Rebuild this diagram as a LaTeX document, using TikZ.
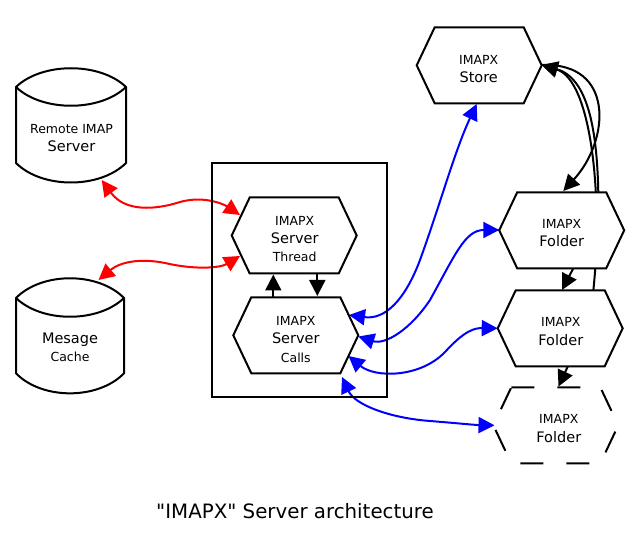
\documentclass[tikz,border=0pt]{standalone}
\usepackage{fontspec}
\setmainfont{DejaVu Sans}[Ligatures=TeXOff]
\usetikzlibrary{arrows.meta}
\newcommand{\lgtxt}[1]{{\fontsize{14.5}{18.3}\selectfont #1}}
\newcommand{\hexshape}[3][]{%
  \draw[shapeline,#1] ({#2-44.5},{#3-38}) -- ({#2+44.5},{#3-38}) -- ({#2+62.5},{#3})
    -- ({#2+44.5},{#3+38}) -- ({#2-44.5},{#3+38}) -- ({#2-62.5},{#3}) -- cycle;}
\begin{document}
\begin{tikzpicture}[x=1pt,y=-1pt,
  shapeline/.style={draw=black,line width=2pt,fill=white,line join=miter},
  txt/.style={align=center,inner sep=0pt,font=\fontsize{12.5}{18.3}\selectfont},
  tipA/.tip={Triangle[length=16pt,width=16pt]},
  edge/.style={line width=2pt,-tipA},
  biedge/.style={line width=2pt,tipA-tipA},
]
\useasboundingbox (0,0) rectangle (640,537);

% connector end points
\coordinate (rem-b) at (101.7,180);
\coordinate (msg-t) at (98.5,280);
\coordinate (thr-l1) at (240,215);
\coordinate (thr-l2) at (240,256);
\coordinate (thr-b1) at (273.3,274.5);
\coordinate (thr-b2) at (317.3,273.3);
\coordinate (cal-t1) at (273.3,297.3);
\coordinate (cal-t2) at (317.3,296);
\coordinate (cal-e1) at (349,315);
\coordinate (cal-e2) at (358.3,336.5);
\coordinate (cal-e3) at (348.5,356);
\coordinate (cal-e4) at (342,377);
\coordinate (sto-b) at (476.7,104);
\coordinate (sto-r) at (541.7,65);
\coordinate (f1-l) at (499.3,230);
\coordinate (f1-t1) at (563.3,191);
\coordinate (f1-t2) at (598.3,192.3);
\coordinate (f1-b) at (573.3,268.3);
\coordinate (f2-l) at (497.7,328.3);
\coordinate (f2-t1) at (562,290);
\coordinate (f2-t2) at (593.3,290.7);
\coordinate (f2-b) at (568,366);
\coordinate (f3-l) at (494.5,425.3);
\coordinate (f3-t) at (558.5,386.5);

% connectors
\draw[biedge,red] (rem-b) .. controls (125,212) and (155,210) .. (180,202)
  .. controls (205,195) and (225,205) .. (thr-l1);
\draw[biedge,red] (msg-t) .. controls (120,262) and (140,258) .. (165,263)
  .. controls (195,270) and (220,268) .. (thr-l2);
\draw[edge] (cal-t1) -- (thr-b1);
\draw[edge] (thr-b2) -- (cal-t2);

\draw[biedge,blue] (cal-e1) .. controls (385,320) and (405,300) .. (420,260)
  .. controls (440,205) and (455,150) .. (sto-b);
\draw[biedge,blue] (cal-e2) .. controls (385,345) and (410,330) .. (430,300)
  .. controls (455,255) and (465,230) .. (f1-l);
\draw[biedge,blue] (cal-e3) .. controls (375,378) and (420,378) .. (445,352)
  .. controls (465,330) and (475,328) .. (f2-l);
\draw[biedge,blue] (cal-e4) .. controls (355,405) and (390,418) .. (430,421)
  .. controls (455,423) and (475,425) .. (f3-l);

\draw[edge] (f2-t2) .. controls (603,200) and (592,80) .. (sto-r);
\draw[edge] (f1-t2) .. controls (597,130) and (588,78) .. (sto-r);
\draw[edge] (sto-r) .. controls (615,62) and (610,140) .. (f1-t1);
\draw[edge] (f1-b) -- (f2-t1);
\draw[edge] (f2-b) -- (f3-t);

% outer box
\draw[line width=2pt] (211.7,163.3) rectangle (386.7,396.7);

% cylinders
\draw[shapeline] (16,87) .. controls (42,62) and (100,62) .. (126,87)
  -- (126,163) .. controls (100,189) and (42,189) .. (16,163) -- cycle;
\draw[line width=2pt] (16,87) .. controls (42,112) and (100,112) .. (126,87);
\node[txt] (remote) at (71.5,138) {Remote IMAP\\\lgtxt{Server}};

\draw[shapeline] (16,298) .. controls (42,271.7) and (98,271.7) .. (124,298)
  -- (124,373.3) .. controls (98,400) and (42,400) .. (16,373.3) -- cycle;
\draw[line width=2pt] (16,298) .. controls (42,323) and (98,323) .. (124,298);
\node[txt] (cache) at (70,347.5) {\lgtxt{Mesage}\\Cache};

% hexagons
\hexshape{294.2}{235.5}
\node[txt] (thread) at (294.7,239) {IMAPX\\\lgtxt{Server}\\Thread};
\hexshape{295.8}{335.3}
\node[txt] (calls) at (295.8,339.3) {IMAPX\\\lgtxt{Server}\\Calls};
\hexshape{479.2}{65.3}
\node[txt] (store) at (478.7,69.1) {IMAPX\\\lgtxt{Store}};
\hexshape{561.7}{230.3}
\node[txt] (folder1) at (561.7,233.1) {IMAPX\\\lgtxt{Folder}};
\hexshape{560.2}{328.3}
\node[txt] (folder2) at (560.8,331.5) {IMAPX\\\lgtxt{Folder}};
\hexshape[fill=none,dash pattern=on 23pt off 23pt]{555.8}{425.3}
\node[txt] (folder3) at (558.8,428.4) {IMAPX\\\lgtxt{Folder}};

% title
\node[font=\fontsize{19.8}{23}\selectfont,inner sep=0pt] (title) at (295,510.7) {"IMAPX" Server architecture};
\end{tikzpicture}
\end{document}
